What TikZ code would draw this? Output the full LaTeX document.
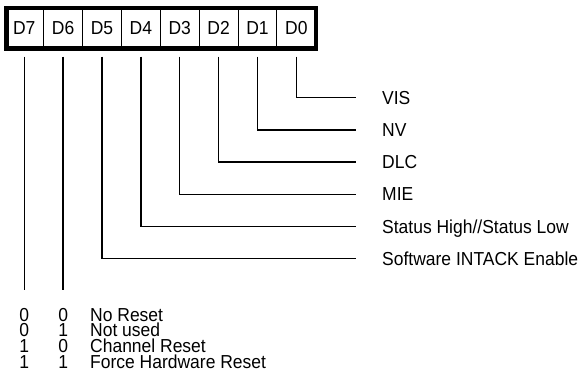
\documentclass[tikz,border=0pt]{standalone}
\usepackage{fontspec}
\setmainfont{Liberation Sans}[FakeStretch=0.93]
\newcommand{\fs}{\fontsize{18.8}{19}\selectfont}
\begin{document}
\begin{tikzpicture}[x=1pt,y=-1pt,
  cell/.style={draw=black,line width=1pt,minimum width=38.86pt,minimum height=44pt,inner sep=0pt,font=\fs},
  lbl/.style={anchor=base west,inner sep=0pt,font=\fs,text height=12.5pt,text depth=1pt},
  digit/.style={anchor=base,inner sep=0pt,font=\fs,text height=12.5pt,text depth=1pt},
  wire/.style={line width=1.5pt}]
\useasboundingbox (0,0) rectangle (579,389);
% register cells
\foreach \n [count=\i from 0] in {7,6,5,4,3,2,1,0}
  \node[cell] (d\n) at ({24.3+38.86*\i},28) {D\n};
\draw[line width=4.5pt] ([xshift=2.25pt,yshift=-2.25pt]d7.north west) rectangle ([xshift=-0.5pt,yshift=2.25pt]d0.south east);
% wire tops
\foreach \n in {7,...,0}
  \path (d\n.south) ++(0,6) coordinate (t\n);
% labels
\node[lbl] (l0) at (382,{97.7+6.5})  {VIS};
\node[lbl] (l1) at (382,{129.9+6.5}) {NV};
\node[lbl] (l2) at (382,{162.1+6.5}) {DLC};
\node[lbl] (l3) at (382,{194.3+6.5}) {MIE};
\node[lbl] (l4) at (382,{226.5+6.5}) {Status High//Status Low};
\node[lbl] (l5) at (382,{258.7+6.5}) {Software INTACK Enable};
% end points
\coordinate (e0) at (356,97.7);
\coordinate (e1) at (356,129.9);
\coordinate (e2) at (356,162.1);
\coordinate (e3) at (356,194.3);
\coordinate (e4) at (356,226.5);
\coordinate (e5) at (356,258.7);
\foreach \n in {0,...,5}
  \draw[wire] (t\n) |- (e\n);
% D7, D6 wires
\coordinate (b7) at (t7 |- 0,290);
\coordinate (b6) at (t6 |- 0,290);
\draw[wire] (t7) -- (b7);
\draw[wire] (t6) -- (b6);
% table
\node[digit] (r1a) at (t7 |- 0,{314.5+6.5}) {0};
\node[digit] (r1b) at (t6 |- 0,{314.5+6.5}) {0};
\node[lbl]   (r1c) at (90,{314.5+6.5}) {No Reset};
\node[digit] (r2a) at (t7 |- 0,{330.2+6.5}) {0};
\node[digit] (r2b) at (t6 |- 0,{330.2+6.5}) {1};
\node[lbl]   (r2c) at (90,{330.2+6.5}) {Not used};
\node[digit] (r3a) at (t7 |- 0,{345.9+6.5}) {1};
\node[digit] (r3b) at (t6 |- 0,{345.9+6.5}) {0};
\node[lbl]   (r3c) at (90,{345.9+6.5}) {Channel Reset};
\node[digit] (r4a) at (t7 |- 0,{361.6+6.5}) {1};
\node[digit] (r4b) at (t6 |- 0,{361.6+6.5}) {1};
\node[lbl]   (r4c) at (90,{361.6+6.5}) {Force Hardware Reset};
\end{tikzpicture}
\end{document}
